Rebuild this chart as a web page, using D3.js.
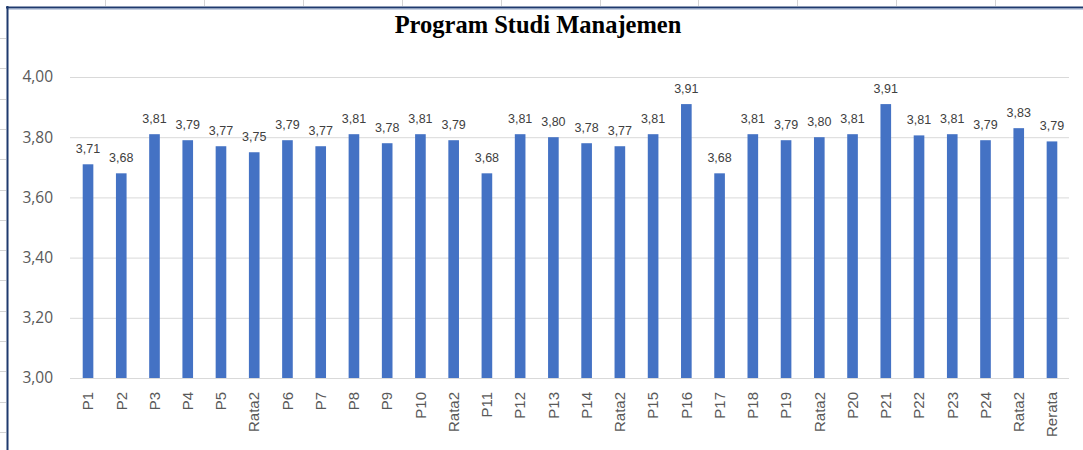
<!DOCTYPE html>
<html><head><meta charset="utf-8">
<script src="https://cdn.jsdelivr.net/npm/d3@7"></script>
<style>
html,body{margin:0;padding:0;background:#fff;}
svg{display:block;}
</style></head>
<body>
<svg id="chart" width="1083" height="450"></svg>
<script>
const title = "Program Studi Manajemen";
const categoryList = ["P1","P2","P3","P4","P5","Rata2","P6","P7","P8","P9","P10","Rata2","P11","P12","P13","P14","Rata2","P15","P16","P17","P18","P19","Rata2","P20","P21","P22","P23","P24","Rata2","Rerata"];
const values = [3.71,3.68,3.81,3.79,3.77,3.75,3.79,3.77,3.81,3.78,3.81,3.79,3.68,3.81,3.80,3.78,3.77,3.81,3.91,3.68,3.81,3.79,3.80,3.81,3.91,3.806,3.81,3.79,3.83,3.786];
const yTicks = [3.00,3.20,3.40,3.60,3.80,4.00];

const svg = d3.select("#chart");
const W = 1083, H = 450;

const data = values.map((v,i)=>({key:i, cat:categoryList[i], v}));

const x = d3.scaleBand().domain(data.map(d=>d.key)).range([71.4,1068.6]).paddingInner(0.68).paddingOuter(0.34);
const y = d3.scaleLinear().domain([3.0,4.0]).range([378,77]);

const loc = d3.formatLocale({decimal:",", thousands:".", grouping:[3], currency:["",""]});
const fmt = loc.format(".2f");

// spreadsheet background ticks
const deco = svg.append("g").attr("stroke","#d4d4d4").attr("stroke-width",1);
d3.range(105,1083,98.9).forEach(px=>deco.append("line").attr("x1",Math.round(px)+0.5).attr("x2",Math.round(px)+0.5).attr("y1",0).attr("y2",6));
d3.range(38,450,30.3).forEach(py=>deco.append("line").attr("x1",0).attr("x2",6).attr("y1",Math.round(py)+0.5).attr("y2",Math.round(py)+0.5));

// chart frame
svg.append("line").attr("x1",6).attr("x2",W).attr("y1",7.5).attr("y2",7.5).attr("stroke","#1f3a6e").attr("stroke-width",2);
svg.append("line").attr("x1",7).attr("x2",W).attr("y1",9).attr("y2",9).attr("stroke","#8ea2c4").attr("stroke-width",1);
svg.append("line").attr("x1",7.5).attr("x2",7.5).attr("y1",6).attr("y2",H).attr("stroke","#1f3a6e").attr("stroke-width",2);

// title
svg.append("text").attr("x",538).attr("y",33).attr("text-anchor","middle")
  .attr("font-family","'Liberation Serif','Times New Roman',serif").attr("font-weight","bold")
  .attr("font-size",24.5).attr("fill","#000").text(title);

// gridlines + y labels
const yAxis = d3.axisLeft(y).tickValues(yTicks).tickSize(-(1069-70)).tickFormat(fmt).tickPadding(17);
const gy = svg.append("g").attr("transform","translate(70,0)").call(yAxis);
gy.select(".domain").remove();
gy.selectAll(".tick line").attr("stroke","#d9d9d9").attr("stroke-width",1);
gy.selectAll(".tick text").attr("fill","#595959").attr("font-size",15.5)
  .attr("font-family","'Open Sans','Liberation Sans',sans-serif");

// bars
svg.append("g").selectAll("rect").data(data).join("rect")
  .attr("x",d=>x(d.key)).attr("width",x.bandwidth())
  .attr("y",d=>y(d.v)).attr("height",d=>y(3.0)-y(d.v))
  .attr("fill","#4472c4");

// data labels
svg.append("g").selectAll("text").data(data).join("text")
  .attr("x",d=>x(d.key)+x.bandwidth()/2).attr("y",d=>y(d.v)-11)
  .attr("text-anchor","middle").attr("font-size",12.5).attr("fill","#404040")
  .attr("font-family","'Liberation Sans Narrow','Liberation Sans',sans-serif")
  .text(d=>fmt(d.v));

// x labels
const xAxis = d3.axisBottom(x).tickSize(0).tickFormat(k=>categoryList[k]);
const gx = svg.append("g").attr("transform","translate(0,378)").call(xAxis);
gx.select(".domain").remove();
gx.selectAll(".tick text").attr("fill","#595959").attr("font-size",15)
  .attr("font-family","'Liberation Sans',sans-serif")
  .attr("text-anchor","end").attr("dy","0.35em")
  .attr("transform","translate(0,14) rotate(-90)").attr("y",0).attr("x",0);
</script>
</body></html>
